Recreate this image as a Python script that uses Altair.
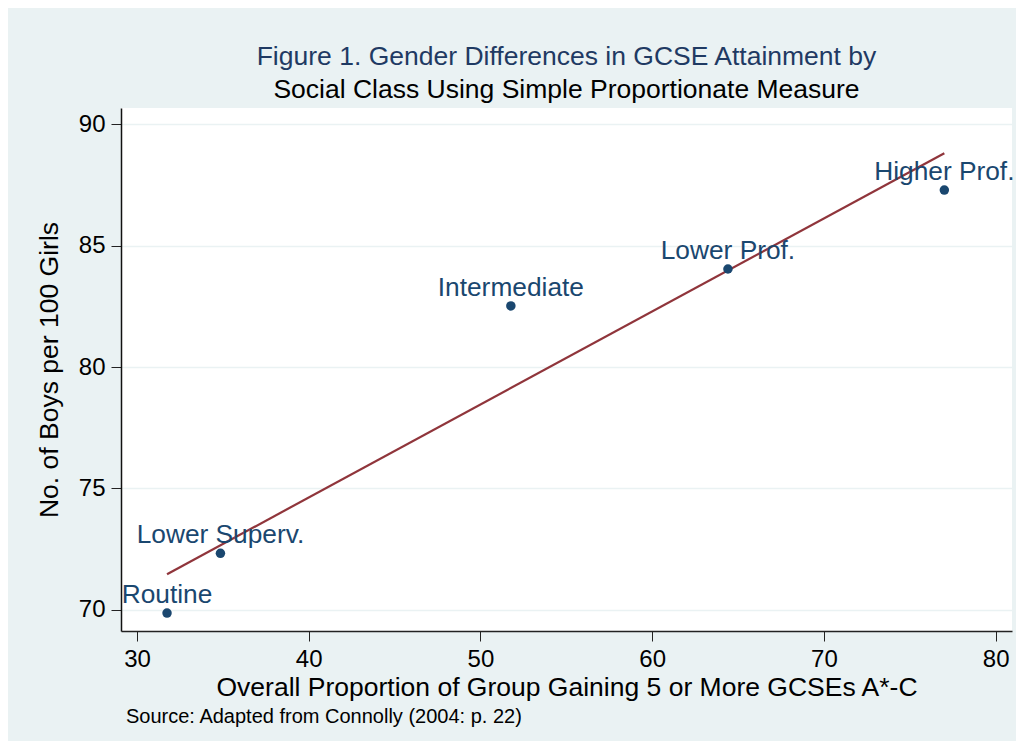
import altair as alt
import pandas as pd

# Data
classes = ["Routine", "Lower Superv.", "Intermediate", "Lower Prof.", "Higher Prof."]
proportion = [31.75, 34.86, 51.77, 64.41, 77.01]
boys_per_100 = [69.87, 72.33, 82.52, 84.04, 87.29]
x_ticks = [30, 40, 50, 60, 70, 80]
y_ticks = [70, 75, 80, 85, 90]
source_note = ["Source: Adapted from Connolly (2004: p. 22)"]

FONT = "Liberation Sans"
NAVY = "#1a476f"
MAROON = "#90353b"
BG = "#eaf2f3"

df = pd.DataFrame({"cls": classes, "prop": proportion, "boys": boys_per_100})

xscale = alt.Scale(domain=[29.07, 80.95], nice=False, zero=False)
yscale = alt.Scale(domain=[69.13, 90.67], nice=False, zero=False)

xaxis = alt.Axis(
    values=x_ticks, title="Overall Proportion of Group Gaining 5 or More GCSEs A*-C",
    grid=False, tickSize=10, tickColor="#222222", tickWidth=1,
    domainColor="#222222", domainWidth=1.5,
    labelFontSize=24, labelFont=FONT, labelColor="black", labelPadding=6,
    titleFontSize=26.5, titleFont=FONT, titleColor="black", titleFontWeight="normal",
    titlePadding=3,
)
yaxis = alt.Axis(
    values=y_ticks, title="No. of Boys per 100 Girls",
    grid=True, gridColor=BG, gridWidth=1.5,
    tickSize=10, tickColor="#222222", tickWidth=1,
    domainColor="#111111", domainWidth=1.5,
    labelAngle=0, labelFontSize=24, labelFont=FONT, labelColor="black", labelPadding=6,
    titleFontSize=26.5, titleFont=FONT, titleColor="black", titleFontWeight="normal",
    titlePadding=15,
)

base = alt.Chart(df)

fit = base.transform_regression("prop", "boys").mark_line(
    color=MAROON, strokeWidth=2.2
).encode(
    x=alt.X("prop:Q", scale=xscale, axis=xaxis),
    y=alt.Y("boys:Q", scale=yscale, axis=yaxis),
)

points = base.mark_circle(size=90, color=NAVY, opacity=1).encode(
    x=alt.X("prop:Q", scale=xscale),
    y=alt.Y("boys:Q", scale=yscale),
)

labels = base.mark_text(
    dy=-10, baseline="alphabetic", align="center", fontSize=26.3, font=FONT, color=NAVY
).encode(
    x=alt.X("prop:Q", scale=xscale),
    y=alt.Y("boys:Q", scale=yscale),
    text="cls:N",
)

note = alt.Chart(pd.DataFrame({"note": source_note})).mark_text(
    align="left", baseline="alphabetic", fontSize=20, font=FONT, color="black"
).encode(
    x=alt.value(5), y=alt.value(615), text="note:N"
)

chart = alt.layer(fit, points, labels, note).properties(
    width=891, height=523,
    background=BG,
    padding={"left": 113, "top": 100, "right": 4, "bottom": 110},
    autosize=alt.AutoSizeParams(type="none"),
    title=alt.Title(
        text="Figure 1. Gender Differences in GCSE Attainment by",
        subtitle="Social Class Using Simple Proportionate Measure",
        anchor="middle", font=FONT, subtitleFont=FONT,
        fontSize=26.5, subtitleFontSize=26.5, fontWeight="normal",
        color="#1f3a63", subtitleColor="black",
        offset=5, subtitlePadding=6,
    ),
).configure_view(stroke=None, fill="white")

chart.save("out.html", embed_options={"renderer": "svg", "actions": False})
